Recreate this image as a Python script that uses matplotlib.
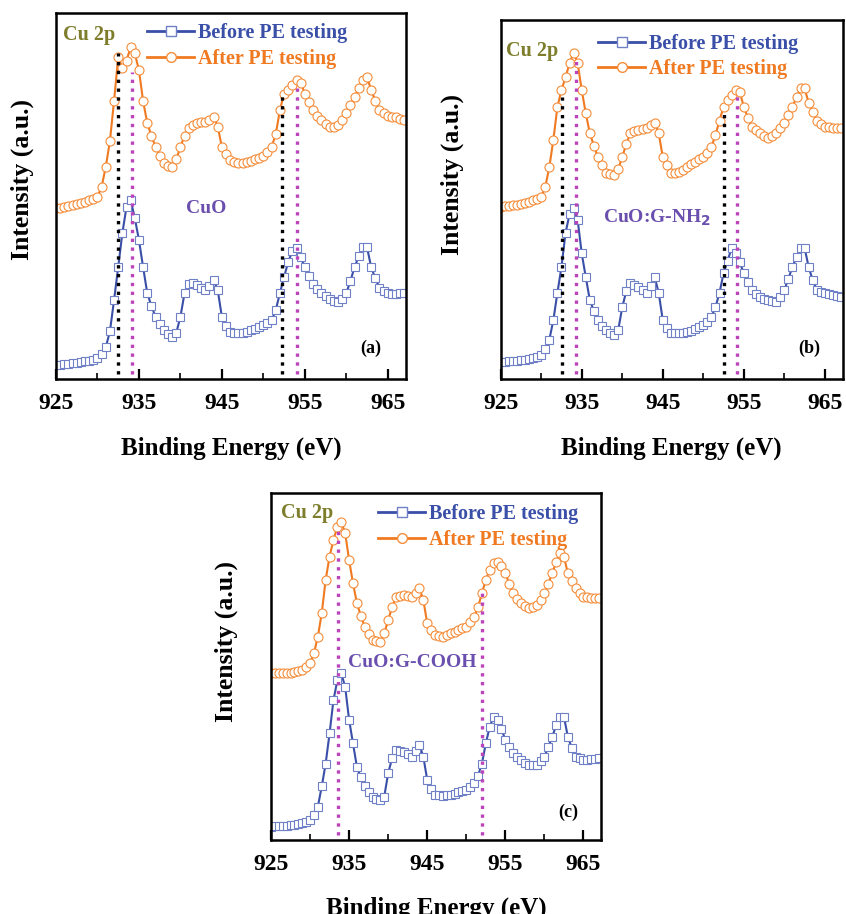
import matplotlib
matplotlib.use('Agg')
import matplotlib.pyplot as plt
from matplotlib.lines import Line2D

plt.rcParams['font.family'] = 'Liberation Serif'
plt.rcParams['font.weight'] = 'bold'

# binding energy grid (eV)
energy = [925, 925.5, 926, 926.5, 927, 927.5, 928, 928.5, 929, 929.5,
          930, 930.5, 931, 931.5, 932, 932.5, 933, 933.5, 934, 934.5,
          935, 935.5, 936, 936.5, 937, 937.5, 938, 938.5, 939, 939.5,
          940, 940.5, 941, 941.5, 942, 942.5, 943, 943.5, 944, 944.5,
          945, 945.5, 946, 946.5, 947, 947.5, 948, 948.5, 949, 949.5,
          950, 950.5, 951, 951.5, 952, 952.5, 953, 953.5, 954, 954.5,
          955, 955.5, 956, 956.5, 957, 957.5, 958, 958.5, 959, 959.5,
          960, 960.5, 961, 961.5, 962, 962.5, 963, 963.5, 964, 964.5,
          965, 965.5, 966, 966.5, 967]

# (a) CuO
before_a = [3.8, 3.9, 4.0, 4.1, 4.3, 4.4, 4.6, 4.8, 5.0, 5.3,
            5.7, 6.8, 8.7, 13, 21.6, 30.6, 39.9, 47, 48.9, 44,
            38, 30.6, 23.5, 20, 17, 15, 13.4, 12.2, 11.5, 12.6,
            17, 23.5, 26, 26.3, 25.7, 25, 24.3, 25.5, 27, 24.3,
            17, 14.5, 12.8, 12.5, 12.6, 12.7, 12.8, 13.3, 13.8, 14.3,
            14.8, 15.3, 16, 18.9, 23.5, 27.9, 32, 35, 35.8, 33.3,
            30.6, 28.2, 26, 24.6, 23.5, 22.7, 22, 21.4, 21, 21.8,
            23.5, 26.8, 30.6, 33.5, 36, 36, 30.6, 27.5, 25, 24,
            23.5, 23.3, 23.3, 23.4, 23.5]
after_a = [46.7, 46.8, 47.0, 47.2, 47.5, 47.7, 48.0, 48.4, 48.9, 49.3,
           49.8, 52.5, 58, 65, 76, 88, 85, 87, 90.7, 89,
           84.4, 76, 70, 66.5, 63.4, 61, 59, 58.3, 58, 60,
           63.4, 66.5, 68.6, 69.4, 70, 70.1, 70.2, 70.9, 71.6, 69,
           63.4, 61.5, 59.8, 59.3, 59, 59.1, 59.3, 59.6, 60, 60.5,
           61, 62, 63.4, 67, 73.5, 78, 79, 80.3, 81.7, 81,
           78, 75.8, 73.5, 72, 70.8, 69.8, 69, 69, 69.4, 70.8,
           72.7, 74.8, 77, 79.5, 81.7, 82.5, 79, 76, 73.5, 72.7,
           72, 71.7, 71.5, 71.1, 70.8]

# (b) CuO:G-NH2
before_b = [4.7, 4.8, 4.9, 5.0, 5.1, 5.2, 5.3, 5.5, 5.8, 6.2,
            6.7, 8.3, 10.9, 16.4, 24, 31.2, 40.6, 46, 47.6, 44.3,
            35, 28.4, 22, 19, 16.4, 14.8, 13.6, 12.8, 12.3, 13.6,
            20, 24.5, 26.7, 26.2, 25.6, 24.8, 24, 26, 28.4, 24,
            16.4, 14.3, 12.8, 12.7, 12.8, 12.9, 13, 13.5, 14, 14.5,
            15, 16, 17.3, 20, 24, 29.5, 33, 36.5, 35, 32.5,
            29.5, 27, 24.8, 23.7, 22.8, 22.4, 22, 21.7, 21.5, 22.8,
            24.8, 28, 31.2, 34, 36.5, 36.5, 31.2, 27.5, 24.8, 24.3,
            24, 23.6, 23.3, 23, 22.8]
after_b = [48, 48.1, 48.3, 48.4, 48.6, 48.8, 49, 49.4, 49.8, 50.2,
           50.7, 53.5, 59, 66.6, 75.8, 80.5, 84, 88, 90.8, 88,
           80.5, 74, 68.5, 65, 61.8, 59.5, 57.4, 57, 56.8, 58.5,
           61.8, 65.5, 68.5, 69, 69.4, 69.7, 70, 70.7, 71.3, 68.5,
           61.8, 59.5, 57.4, 57.5, 57.7, 58.3, 59, 59.8, 60.5, 61.2,
           61.8, 63, 64.6, 68, 72, 75.8, 77.7, 79.2, 80.5, 80,
           75.8, 72.8, 70.2, 69.3, 68.5, 67.7, 67, 67.6, 68.5, 70,
           71.3, 73.5, 75.8, 78.5, 81, 81, 76.9, 74.5, 72, 71,
           70.2, 70.1, 70, 70, 70]

# (c) CuO:G-COOH
before_c = [3.8, 3.9, 4.0, 4.0, 4.1, 4.2, 4.3, 4.5, 4.8, 5.2,
            5.8, 7.3, 9.6, 15.4, 22, 30.7, 40.3, 46, 48, 44,
            34.6, 27.8, 21, 18, 15.4, 13.8, 12.5, 11.9, 11.5, 12.5,
            19.2, 23.5, 25.9, 25.7, 25.4, 24.7, 24, 25.7, 27.4, 24,
            17.3, 14.8, 13, 12.9, 12.8, 12.9, 13, 13.3, 13.7, 14,
            14.4, 15.2, 16.3, 18.5, 22, 27.8, 32.6, 35.5, 34.6, 32,
            28.8, 26.8, 25, 24, 23, 22.3, 21.6, 21.5, 21.6, 22.6,
            24, 26.8, 29.7, 33, 35.5, 35.5, 29.7, 26.5, 24, 23.5,
            23, 23.1, 23.3, 23.4, 23.5]
after_c = [48, 48, 48, 48, 48, 48.2, 48.4, 48.7, 49, 49.8,
           50.9, 53.8, 58.5, 65.3, 74.9, 81.6, 86.4, 90.2, 91.6, 88.3,
           80.6, 73.9, 68.2, 64.5, 61.4, 59.3, 57.6, 57.2, 57.1, 59.5,
           63.3, 67, 70, 70.3, 70.5, 70.2, 70, 71.2, 72.5, 69.1,
           62.4, 60.5, 59, 58.7, 58.5, 59, 59.5, 60, 60.5, 61,
           61.4, 62.8, 64.3, 67, 71, 74.9, 77.7, 79.6, 80.1, 79,
           76.8, 73.8, 71, 69.5, 68.2, 67.4, 66.7, 67, 67.7, 69.2,
           71, 73.8, 76.8, 80, 82.5, 81.6, 76.8, 74.5, 72.6, 71.2,
           70, 69.9, 69.8, 69.7, 69.6]

# dotted guide lines: positions (eV) and top heights
black_x_a, black_top_a = [932.5, 952.3], [89, 78]
mag_x_a, mag_top_a = [934.2, 954.0], [84, 81]
black_x_b, black_top_b = [932.6, 952.5], [78.5, 74]
mag_x_b, mag_top_b = [934.3, 954.2], [89.7, 79]
black_x_c, black_top_c = [], []
mag_x_c, mag_top_c = [933.6, 952.0], [90.2, 71.1]

blue_line = '#3a4fa8'
blue_mk = '#7080c6'
orange_line = '#f07a22'
orange_mk = '#f58d3a'
magenta = '#bb44bb'
purple = '#6a4fae'
olive = '#7d7d2c'


def panel(ax, before, after, bx, btop, mx, mtop, sample, tag,
          leg_pos, cu_pos, sample_pos, tag_pos, ylab_pos):
    ax.plot(energy, before, '-', color=blue_line, lw=1.5, marker='s', ms=6,
            mfc='white', mec=blue_mk, mew=0.8, zorder=2)
    ax.plot(energy, after, '-', color=orange_line, lw=1.5, marker='o', ms=6.5,
            mfc='white', mec=orange_mk, mew=0.8, zorder=2)
    for x, t in zip(bx, btop):
        ax.plot([x, x], [1.5, t], ':', color='black', lw=2.4, zorder=3)
    for x, t in zip(mx, mtop):
        ax.plot([x, x], [1.5, t], ':', color=magenta, lw=2.4, zorder=3)

    ax.set_xlim(925, 967.2)
    ax.set_ylim(0, 100)
    ax.set_yticks([])
    ax.set_xticks([925, 935, 945, 955, 965])
    ax.set_xticks([930, 940, 950, 960], minor=True)
    ax.tick_params(axis='x', which='major', direction='in', length=7, width=1.6,
                   labelsize=17, pad=10)
    ax.tick_params(axis='x', which='minor', direction='in', length=4, width=1.2)
    for s in ax.spines.values():
        s.set_linewidth(1.8)
    ax.set_xlabel('Binding Energy (eV)', fontsize=18, fontweight='bold', labelpad=16)
    ax.set_ylabel('Intensity (a.u.)', fontsize=18.5, fontweight='bold')
    ax.yaxis.set_label_coords(*ylab_pos)

    handles = [Line2D([], [], color=blue_line, lw=2, marker='s', ms=6.5, mfc='white', mec=blue_mk),
               Line2D([], [], color=orange_line, lw=2, marker='o', ms=7, mfc='white', mec=orange_mk)]
    leg = ax.legend(handles, ['Before PE testing', 'After PE testing'], loc='upper left',
                    bbox_to_anchor=leg_pos, frameon=False, handlelength=2.35,
                    handletextpad=0.2, labelspacing=0.28, borderpad=0, borderaxespad=0,
                    numpoints=1, prop={'weight': 'bold', 'size': 14.5})
    leg.get_texts()[0].set_color(blue_line)
    leg.get_texts()[1].set_color(orange_line)

    ax.text(cu_pos[0], cu_pos[1], 'Cu 2p', transform=ax.transAxes, color=olive,
            fontsize=14.5, fontweight='bold', va='center')
    ax.text(sample_pos[0], sample_pos[1], sample, transform=ax.transAxes, color=purple,
            fontsize=14, fontweight='bold', va='center')
    ax.text(tag_pos[0], tag_pos[1], tag, transform=ax.transAxes, color='black',
            fontsize=13, fontweight='bold', va='center')


fig = plt.figure(figsize=(8.46, 9.14), dpi=100)
ax_a = fig.add_axes([0.0662, 0.5853, 0.4137, 0.4004])
ax_b = fig.add_axes([0.5918, 0.5853, 0.4043, 0.3928])
ax_c = fig.add_axes([0.3203, 0.081, 0.3897, 0.380])

panel(ax_a, before_a, after_a, black_x_a, black_top_a, mag_x_a, mag_top_a,
      'CuO', '(a)', (0.26, 0.972), (0.02, 0.94), (0.37, 0.465), (0.87, 0.085),
      (-0.063, 0.546))
panel(ax_b, before_b, after_b, black_x_b, black_top_b, mag_x_b, mag_top_b,
      'CuO:G-NH$_\\mathbf{2}$', '(b)', (0.285, 0.962), (0.015, 0.915), (0.30, 0.45),
      (0.87, 0.085), (-0.108, 0.571))
panel(ax_c, before_c, after_c, black_x_c, black_top_c, mag_x_c, mag_top_c,
      'CuO:G-COOH', '(c)', (0.325, 0.966), (0.03, 0.94), (0.235, 0.51), (0.87, 0.08),
      (-0.101, 0.571))

fig.savefig('out.png', dpi=100)
